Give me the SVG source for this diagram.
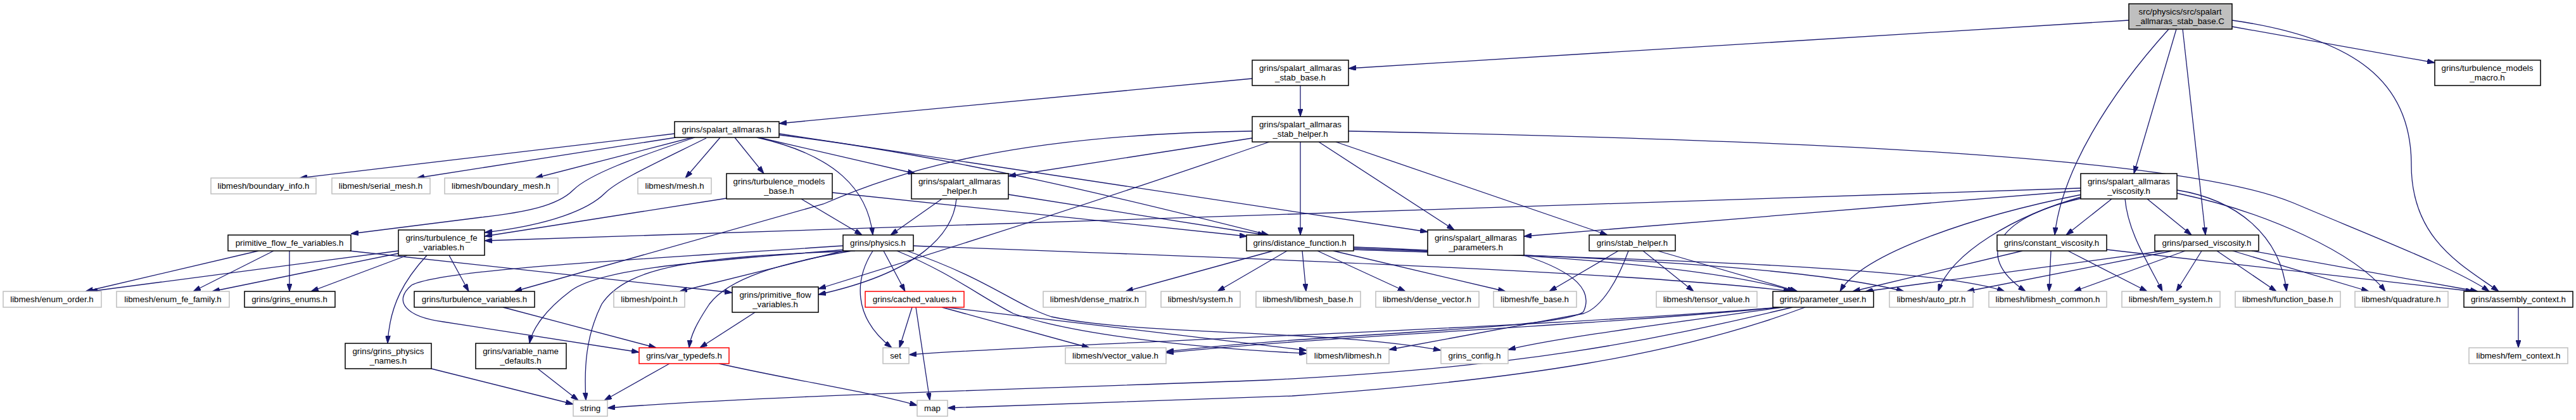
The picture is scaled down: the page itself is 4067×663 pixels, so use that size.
<svg xmlns="http://www.w3.org/2000/svg" width="4067" height="663" viewBox="0 0 4067 663">
<style>
rect{stroke-width:1.5}
.n rect{fill:#fff;stroke:#000}
.g rect{fill:#fff;stroke:#bfbfbf}
.r rect{fill:#fff;stroke:#ff0000}
.t rect{fill:#bfbfbf;stroke:#000}
text{font-family:"Liberation Sans",Arial,sans-serif;font-size:13.3px;fill:#000;text-anchor:middle}
#edges path{fill:none;stroke:#191970;stroke-width:1.3;marker-end:url(#ah)}
</style>
<defs>
<marker id="ah" markerWidth="12" markerHeight="8" refX="12" refY="4" orient="auto" markerUnits="userSpaceOnUse">
<path d="M0,0 L12,4 L0,8 z" fill="#191970" stroke="#191970" stroke-width="1"/>
</marker>
</defs>
<rect width="4067" height="663" fill="#fff"/>
<g id="edges">
<path d="M3361,32 L2129,108"/>
<path d="M3524,42 L3844,99"/>
<path d="M3524,32 C3720,60 3807,130 3807,260 C3807,380 3890,420 3945,460"/>
<path d="M3436,46 L3369,274"/>
<path d="M3424,46 C3330,150 3255,270 3244,371"/>
<path d="M3446,46 L3482,371"/>
<path d="M1977,124 L1230,195"/>
<path d="M2053,135 L2053,184"/>
<path d="M1977,218 L1592,278"/>
<path d="M1977,207 C1600,212 1420,270 1300,322 L812,460"/>
<path d="M2053,224 L2053,371"/>
<path d="M2082,224 L2296,363"/>
<path d="M2109,224 L2538,371"/>
<path d="M2004,224 Q1700,330 1292,456"/>
<path d="M2129,207 C2900,222 3450,250 3620,320 C3750,375 3880,425 3930,460"/>
<path d="M1065,211 L473,281"/>
<path d="M1067,217 L658,281"/>
<path d="M1093,217 L845,281"/>
<path d="M1137,217 L1082,281"/>
<path d="M1160,217 L1206,274"/>
<path d="M1097,217 C1000,250 930,275 905,300 C880,325 830,335 760,343 L554,369"/>
<path d="M1115,218 C1030,260 975,285 955,305 C930,330 870,355 765,367"/>
<path d="M1198,217 L1445,274"/>
<path d="M1195,217 C1320,245 1370,300 1378,371"/>
<path d="M1230,213 C1500,245 1800,320 2003,371"/>
<path d="M1230,211 L2254,366"/>
<path d="M1147,313 L765,373"/>
<path d="M1265,314 L1361,371"/>
<path d="M1314,304 L1969,373"/>
<path d="M1487,314 L1406,371"/>
<path d="M1510,314 C1505,370 1450,430 1292,465"/>
<path d="M1592,307 L1998,371"/>
<path d="M3285,297 L765,380"/>
<path d="M3285,301 L2406,373"/>
<path d="M3334,314 L3262,371"/>
<path d="M3390,314 L3460,371"/>
<path d="M3287,307 C3120,340 2940,400 2905,460"/>
<path d="M3289,310 C3180,340 3080,400 3060,460"/>
<path d="M3291,312 C3160,340 3110,400 3198,460"/>
<path d="M3355,314 C3360,370 3395,420 3414,460"/>
<path d="M3437,300 C3530,315 3600,370 3610,460"/>
<path d="M3437,305 C3580,335 3720,400 3766,460"/>
<path d="M3193,396 L2925,460"/>
<path d="M3238,396 L3235,460"/>
<path d="M3265,396 L3390,460"/>
<path d="M3326,394 L3905,460"/>
<path d="M3417,396 L2945,460"/>
<path d="M3430,396 L3105,460"/>
<path d="M3450,396 L3274,460"/>
<path d="M3476,396 L3436,460"/>
<path d="M3500,396 L3594,460"/>
<path d="M3525,396 L3740,460"/>
<path d="M3555,396 L3912,460"/>
<path d="M3976,485 L3976,549"/>
<path d="M408,396 L135,460"/>
<path d="M432,396 L305,460"/>
<path d="M457,396 L457,460"/>
<path d="M552,396 L1156,462"/>
<path d="M629,396 L142,460"/>
<path d="M629,400 L335,460"/>
<path d="M643,403 L491,460"/>
<path d="M709,403 L740,460"/>
<path d="M674,403 C640,440 615,480 612,542"/>
<path d="M794,485 L1036,549"/>
<path d="M1192,493 L1105,549"/>
<path d="M1057,574 L954,632"/>
<path d="M1135,574 C1250,600 1380,620 1448,640"/>
<path d="M849,582 L913,632"/>
<path d="M681,582 L905,638"/>
<path d="M1331,396 L1073,460"/>
<path d="M1345,396 C1230,415 1150,440 1120,480 C1100,510 1090,530 1088,549"/>
<path d="M1350,396 C1100,405 990,420 950,480 C925,530 922,580 925,632"/>
<path d="M1335,394 C1150,410 950,420 900,460 C860,490 840,520 836,542"/>
<path d="M1331,388 C1000,410 700,425 650,450 C620,475 640,500 700,508 L1009,556"/>
<path d="M1395,396 L1429,460"/>
<path d="M1378,396 C1350,440 1345,500 1408,549"/>
<path d="M1416,396 C1500,430 1550,470 1600,495 C1700,530 1900,550 2063,558"/>
<path d="M1432,396 C1560,440 1600,480 1660,500 C1800,530 2100,520 2275,553"/>
<path d="M1442,388 C1900,405 2600,430 2828,460"/>
<path d="M1440,485 L1420,549"/>
<path d="M1446,485 L1468,632"/>
<path d="M1487,485 L1720,549"/>
<path d="M1494,485 L2063,553"/>
<path d="M2010,396 L1777,460"/>
<path d="M2032,396 L1922,460"/>
<path d="M2056,396 L2062,460"/>
<path d="M2080,396 L2219,460"/>
<path d="M2105,396 L2377,460"/>
<path d="M2137,390 C2400,400 2700,420 2834,460"/>
<path d="M2137,392 C2500,405 2850,420 3006,460"/>
<path d="M2137,394 C2600,410 3050,420 3165,460"/>
<path d="M2406,403 C2490,430 2515,460 2500,492 C2470,520 2100,525 1841,555"/>
<path d="M2555,396 L2446,460"/>
<path d="M2594,396 L2674,460"/>
<path d="M2617,396 L2838,460"/>
<path d="M2571,396 C2555,440 2530,485 2500,495 L2193,552"/>
<path d="M2810,485 C2400,520 1700,540 1435,560"/>
<path d="M2812,485 C2500,515 2100,530 1841,557"/>
<path d="M2815,485 C2600,515 2450,535 2381,552"/>
<path d="M2830,485 C2600,540 2400,580 2000,600 C1600,615 1200,625 959,644"/>
<path d="M2850,485 C2650,560 2400,600 2040,625 L1496,644"/>
</g>
<g id="N0" class="t"><rect x="3361" y="6" width="163" height="40"/><text x="3442" y="23">src/physics/src/spalart</text><text x="3442" y="38">_allmaras_stab_base.C</text></g>
<g id="N1" class="n"><rect x="1977" y="95" width="152" height="40"/><text x="2053" y="112">grins/spalart_allmaras</text><text x="2053" y="127">_stab_base.h</text></g>
<g id="N2" class="n"><rect x="3844" y="95" width="167" height="40"/><text x="3927" y="112">grins/turbulence_models</text><text x="3927" y="127">_macro.h</text></g>
<g id="N3" class="n"><rect x="1065" y="192" width="165" height="25"/><text x="1147" y="209">grins/spalart_allmaras.h</text></g>
<g id="N4" class="n"><rect x="1977" y="184" width="152" height="40"/><text x="2053" y="201">grins/spalart_allmaras</text><text x="2053" y="216">_stab_helper.h</text></g>
<g id="N5" class="n"><rect x="3285" y="274" width="152" height="40"/><text x="3361" y="291">grins/spalart_allmaras</text><text x="3361" y="306">_viscosity.h</text></g>
<g id="N6" class="n"><rect x="3153" y="371" width="173" height="25"/><text x="3239" y="388">grins/constant_viscosity.h</text></g>
<g id="N7" class="n"><rect x="3402" y="371" width="164" height="25"/><text x="3484" y="388">grins/parsed_viscosity.h</text></g>
<g id="N8" class="n"><rect x="3890" y="460" width="172" height="25"/><text x="3976" y="477">grins/assembly_context.h</text></g>
<g id="N9" class="g"><rect x="3898" y="549" width="156" height="25"/><text x="3976" y="566">libmesh/fem_context.h</text></g>
<g id="N10" class="g"><rect x="333" y="281" width="166" height="25"/><text x="416" y="298">libmesh/boundary_info.h</text></g>
<g id="N11" class="g"><rect x="524" y="281" width="155" height="25"/><text x="601" y="298">libmesh/serial_mesh.h</text></g>
<g id="N12" class="g"><rect x="702" y="281" width="179" height="25"/><text x="791" y="298">libmesh/boundary_mesh.h</text></g>
<g id="N13" class="g"><rect x="1007" y="281" width="116" height="25"/><text x="1065" y="298">libmesh/mesh.h</text></g>
<g id="N14" class="n"><rect x="1147" y="274" width="167" height="40"/><text x="1230" y="291">grins/turbulence_models</text><text x="1230" y="306">_base.h</text></g>
<g id="N15" class="n"><rect x="1439" y="274" width="153" height="40"/><text x="1515" y="291">grins/spalart_allmaras</text><text x="1515" y="306">_helper.h</text></g>
<g id="N16" class="n"><rect x="360" y="371" width="194" height="25"/><text x="457" y="388">primitive_flow_fe_variables.h</text></g>
<g id="N17" class="n"><rect x="629" y="363" width="136" height="40"/><text x="697" y="380">grins/turbulence_fe</text><text x="697" y="395">_variables.h</text></g>
<g id="N18" class="n"><rect x="1331" y="371" width="111" height="25"/><text x="1386" y="388">grins/physics.h</text></g>
<g id="N19" class="n"><rect x="1968" y="371" width="169" height="25"/><text x="2052" y="388">grins/distance_function.h</text></g>
<g id="N20" class="n"><rect x="2254" y="363" width="152" height="40"/><text x="2330" y="380">grins/spalart_allmaras</text><text x="2330" y="395">_parameters.h</text></g>
<g id="N21" class="n"><rect x="2509" y="371" width="136" height="25"/><text x="2577" y="388">grins/stab_helper.h</text></g>
<g id="N22" class="g"><rect x="5" y="460" width="155" height="25"/><text x="82" y="477">libmesh/enum_order.h</text></g>
<g id="N23" class="g"><rect x="184" y="460" width="178" height="25"/><text x="273" y="477">libmesh/enum_fe_family.h</text></g>
<g id="N24" class="n"><rect x="386" y="460" width="143" height="25"/><text x="457" y="477">grins/grins_enums.h</text></g>
<g id="N25" class="n"><rect x="654" y="460" width="190" height="25"/><text x="749" y="477">grins/turbulence_variables.h</text></g>
<g id="N26" class="g"><rect x="969" y="460" width="112" height="25"/><text x="1025" y="477">libmesh/point.h</text></g>
<g id="N27" class="n"><rect x="1156" y="453" width="136" height="40"/><text x="1224" y="470">grins/primitive_flow</text><text x="1224" y="485">_variables.h</text></g>
<g id="N28" class="r"><rect x="1366" y="460" width="156" height="25"/><text x="1444" y="477">grins/cached_values.h</text></g>
<g id="N29" class="g"><rect x="1647" y="460" width="162" height="25"/><text x="1728" y="477">libmesh/dense_matrix.h</text></g>
<g id="N30" class="g"><rect x="1833" y="460" width="125" height="25"/><text x="1895" y="477">libmesh/system.h</text></g>
<g id="N31" class="g"><rect x="1983" y="460" width="165" height="25"/><text x="2065" y="477">libmesh/libmesh_base.h</text></g>
<g id="N32" class="g"><rect x="2172" y="460" width="163" height="25"/><text x="2253" y="477">libmesh/dense_vector.h</text></g>
<g id="N33" class="g"><rect x="2358" y="460" width="131" height="25"/><text x="2423" y="477">libmesh/fe_base.h</text></g>
<g id="N34" class="g"><rect x="2615" y="460" width="159" height="25"/><text x="2694" y="477">libmesh/tensor_value.h</text></g>
<g id="N35" class="n"><rect x="2799" y="460" width="159" height="25"/><text x="2878" y="477">grins/parameter_user.h</text></g>
<g id="N36" class="g"><rect x="2983" y="460" width="132" height="25"/><text x="3049" y="477">libmesh/auto_ptr.h</text></g>
<g id="N37" class="g"><rect x="3140" y="460" width="186" height="25"/><text x="3233" y="477">libmesh/libmesh_common.h</text></g>
<g id="N38" class="g"><rect x="3350" y="460" width="155" height="25"/><text x="3427" y="477">libmesh/fem_system.h</text></g>
<g id="N39" class="g"><rect x="3529" y="460" width="166" height="25"/><text x="3612" y="477">libmesh/function_base.h</text></g>
<g id="N40" class="g"><rect x="3718" y="460" width="147" height="25"/><text x="3791" y="477">libmesh/quadrature.h</text></g>
<g id="N41" class="n"><rect x="545" y="542" width="136" height="40"/><text x="613" y="559">grins/grins_physics</text><text x="613" y="574">_names.h</text></g>
<g id="N42" class="n"><rect x="751" y="542" width="143" height="40"/><text x="822" y="559">grins/variable_name</text><text x="822" y="574">_defaults.h</text></g>
<g id="N43" class="r"><rect x="1009" y="549" width="142" height="25"/><text x="1080" y="566">grins/var_typedefs.h</text></g>
<g id="N44" class="g"><rect x="1394" y="549" width="41" height="25"/><text x="1414" y="566">set</text></g>
<g id="N45" class="g"><rect x="1682" y="549" width="159" height="25"/><text x="1761" y="566">libmesh/vector_value.h</text></g>
<g id="N46" class="g"><rect x="2063" y="549" width="130" height="25"/><text x="2128" y="566">libmesh/libmesh.h</text></g>
<g id="N47" class="g"><rect x="2275" y="549" width="106" height="25"/><text x="2328" y="566">grins_config.h</text></g>
<g id="N48" class="g"><rect x="905" y="632" width="54" height="25"/><text x="932" y="649">string</text></g>
<g id="N49" class="g"><rect x="1448" y="632" width="48" height="25"/><text x="1472" y="649">map</text></g>
</svg>
